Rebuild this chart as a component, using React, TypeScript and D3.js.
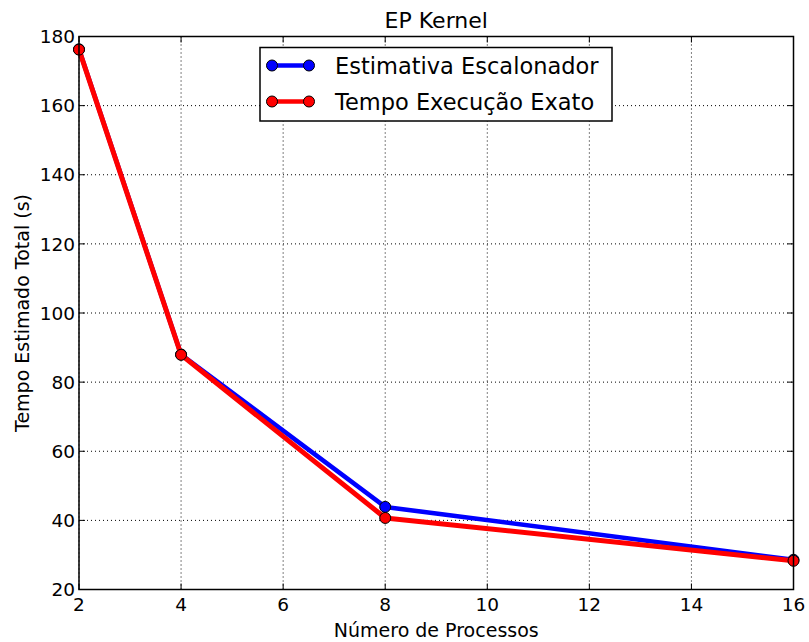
import React from "react";
import * as d3 from "d3";

const procs = [2, 4, 8, 16];
const estimativa = [176.3, 88.0, 43.9, 28.6];
const exato = [176.2, 87.9, 40.7, 28.3];
const xTicks = [2, 4, 6, 8, 10, 12, 14, 16];
const yTicks = [20, 40, 60, 80, 100, 120, 140, 160, 180];
const seriesNames = ["Estimativa Escalonador", "Tempo Execução Exato"];
const seriesColors = ["#0000ff", "#ff0000"];

const W = 809, H = 642;
const L = 79, R = 793.5, T = 36.5, B = 589.5;
const FONT = "DejaVu Sans, sans-serif";

export default function App() {
  const x = d3.scaleLinear().domain([2, 16]).range([L, R]);
  const y = d3.scaleLinear().domain([20, 180]).range([B, T]);
  const line = d3.line<number>().x((_, i) => x(procs[i])).y((d) => y(d));
  const series = [estimativa, exato];
  const legX = 260, legY = 47.5, legW = 352, legH = 73.5;
  return (
    <svg width={W} height={H} style={{ position: "absolute", left: 0, top: 0, background: "#fff" }} fontFamily={FONT}>
      <rect x={0} y={0} width={W} height={H} fill="#fff" />
      {xTicks.map((t) => (
        <line key={"gx" + t} x1={x(t)} x2={x(t)} y1={T} y2={B} stroke="#000" strokeWidth={1} strokeDasharray="1,3" />
      ))}
      {yTicks.map((t) => (
        <line key={"gy" + t} x1={L} x2={R} y1={y(t)} y2={y(t)} stroke="#000" strokeWidth={1} strokeDasharray="1,3" />
      ))}
      {xTicks.map((t) => (
        <g key={"tx" + t}>
          <line x1={x(t)} x2={x(t)} y1={B} y2={B - 6} stroke="#000" strokeWidth={1} />
          <line x1={x(t)} x2={x(t)} y1={T} y2={T + 6} stroke="#000" strokeWidth={1} />
          <text x={x(t)} y={611} fontSize={18.5} textAnchor="middle" fill="#000">{t}</text>
        </g>
      ))}
      {yTicks.map((t) => (
        <g key={"ty" + t}>
          <line x1={L} x2={L + 6} y1={y(t)} y2={y(t)} stroke="#000" strokeWidth={1} />
          <line x1={R} x2={R - 6} y1={y(t)} y2={y(t)} stroke="#000" strokeWidth={1} />
          <text x={L - 4} y={y(t) + 6.7} fontSize={18.5} textAnchor="end" fill="#000">{t}</text>
        </g>
      ))}
      <defs>
        <clipPath id="plotclip">
          <rect x={L - 8} y={T - 8} width={R - L + 16} height={B - T + 16} />
        </clipPath>
      </defs>
      <g clipPath="url(#plotclip)">
        {series.map((s, si) => (
          <g key={"s" + si}>
            <path d={line(s) || ""} fill="none" stroke={seriesColors[si]} strokeWidth={si === 0 ? 4.5 : 5} strokeLinejoin="round" />
            {s.map((v, i) => (
              <circle key={i} cx={x(procs[i])} cy={y(v)} r={5.5} fill={seriesColors[si]} stroke="#000" strokeWidth={1} />
            ))}
          </g>
        ))}
      </g>
      <rect x={L} y={T} width={R - L} height={B - T} fill="none" stroke="#000" strokeWidth={1.5} />
      <rect x={legX} y={legY} width={legW} height={legH} fill="#fff" stroke="#000" strokeWidth={1.5} />
      {seriesNames.map((n, i) => {
        const cy = legY + 18 + i * 36;
        return (
          <g key={"leg" + i}>
            <line x1={legX + 12} x2={legX + 49} y1={cy} y2={cy} stroke={seriesColors[i]} strokeWidth={4.5} />
            <circle cx={legX + 12} cy={cy} r={5.5} fill={seriesColors[i]} stroke="#000" strokeWidth={1} />
            <circle cx={legX + 49} cy={cy} r={5.5} fill={seriesColors[i]} stroke="#000" strokeWidth={1} />
            <text x={legX + 75} y={cy + 8} fontSize={22.5} fill="#000">{n}</text>
          </g>
        );
      })}
      <text x={(L + R) / 2} y={27.5} fontSize={22} textAnchor="middle" fill="#000">EP Kernel</text>
      <text x={(L + R) / 2} y={636.5} fontSize={19} textAnchor="middle" fill="#000">Número de Processos</text>
      <text transform={`translate(29, ${(T + B) / 2}) rotate(-90)`} fontSize={19} textAnchor="middle" fill="#000">Tempo Estimado Total (s)</text>
    </svg>
  );
}
